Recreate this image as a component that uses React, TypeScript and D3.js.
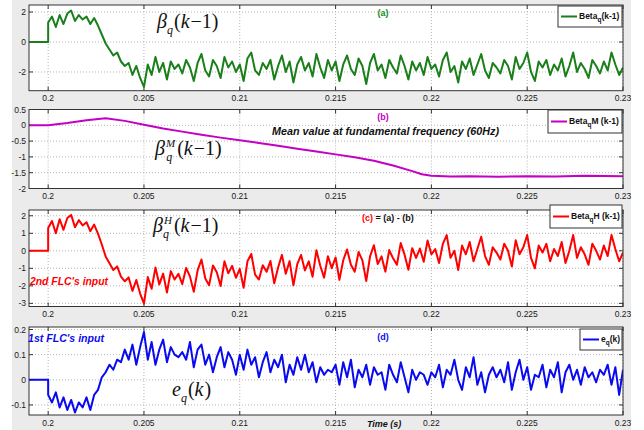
import React from 'react'
import * as d3 from 'd3'

// sample grid of the simulated signals
const T0 = 0.2
const DT = 0.0002
const startT = [0.199, 0.2]
const startV = [0, 0]

const xTicks = [0.2, 0.205, 0.21, 0.215, 0.22, 0.225, 0.23]
const xTickLabels = ['0.2', '0.205', '0.21', '0.215', '0.22', '0.225', '0.23']

// (a) Beta_q(k-1)
const betaQ = [
  1.3, 1.7, 1.0, 1.8, 1.2, 1.9, 2.1, 1.4, 1.8, 1.5,
  1.7, 1.2, 1.6, 1.1, 0.5, -0.1, -0.5, -0.9, -0.7, -1.3,
  -1.6, -1.4, -2.2, -1.6, -2.4, -3.0, -1.5, -2.2, -1.0, -2.0,
  -1.4, -2.5, -1.3, -1.8, -1.5, -2.1, -1.2, -1.7, -2.6, -1.4,
  -0.8, -1.9, -2.3, -1.2, -1.6, -2.4, -1.0, -1.7, -1.3, -2.0,
  -1.5, -2.6, -1.1, -0.7, -1.9, -2.2, -1.4, -1.8, -1.2, -2.5,
  -1.6, -0.9, -2.0, -1.3, -2.7, -1.5, -1.0, -1.9, -1.4, -2.3,
  -0.8, -1.7, -2.4, -1.2, -1.9, -1.3, -2.6, -1.5, -0.9, -1.8,
  -2.2, -1.1, -1.6, -2.8, -1.4, -0.8, -1.9, -1.5, -2.4, -1.2,
  -1.7, -2.1, -0.9, -1.6, -2.5, -1.3, -1.9, -1.4, -2.2, -1.0,
  -1.8, -1.5, -2.3, -1.2, -0.7, -2.0, -1.6, -2.7, -1.3, -1.8,
  -1.1, -2.2, -1.5, -0.8, -1.9, -2.4, -1.4, -1.7, -2.1, -1.2,
  -1.6, -2.5, -1.0, -1.8, -1.4, -0.7, -2.0, -2.6, -1.3, -1.7,
  -1.2, -2.2, -1.5, -1.9, -1.1, -2.3, -1.6, -0.7, -2.0, -1.4,
  -1.8, -2.4, -1.2, -1.6, -2.1, -1.3, -1.9, -0.7, -1.5, -2.2,
  -1.7,
]

// (b) Beta_qM(k-1), mean value at 60 Hz
const betaMTimes = [0.199, 0.2, 0.201, 0.202, 0.203, 0.204, 0.205, 0.206, 0.207, 0.208, 0.209, 0.21,
  0.211, 0.212, 0.213, 0.214, 0.215, 0.216, 0.217, 0.218, 0.219, 0.2195, 0.22, 0.221, 0.222,
  0.2235, 0.225, 0.2265, 0.228, 0.23]
const betaM = [0, 0, 0.07, 0.16, 0.22, 0.14, 0.02, -0.1, -0.2, -0.3, -0.39, -0.47,
  -0.56, -0.65, -0.74, -0.83, -0.92, -1.01, -1.12, -1.27, -1.45, -1.55, -1.6, -1.62, -1.61,
  -1.63, -1.61, -1.62, -1.6, -1.61]

// (c) Beta_qH(k-1) = (a) - (b)
const betaH = [
  1.3, 1.7, 1.0, 1.8, 1.2, 1.87, 2.05, 1.35, 1.75, 1.45,
  1.63, 1.12, 1.5, 0.98, 0.36, -0.32, -0.71, -1.1, -0.89, -1.47,
  -1.74, -1.52, -2.29, -1.67, -2.44, -3.02, -1.5, -2.17, -0.95, -1.92,
  -1.3, -2.38, -1.16, -1.64, -1.32, -1.9, -0.98, -1.46, -2.34, -1.12,
  -0.5, -1.58, -1.96, -0.84, -1.22, -2.01, -0.6, -1.28, -0.86, -1.54,
  -1.03, -2.11, -0.6, -0.18, -1.36, -1.64, -0.82, -1.2, -0.58, -1.86,
  -0.95, -0.23, -1.31, -0.59, -1.97, -0.76, -0.24, -1.12, -0.6, -1.48,
  0.03, -0.85, -1.53, -0.31, -0.99, -0.38, -1.66, -0.54, 0.08, -0.8,
  -1.19, -0.07, -0.55, -1.73, -0.31, 0.32, -0.75, -0.32, -1.19, 0.04,
  -0.43, -0.8, 0.44, -0.22, -1.08, 0.15, -0.41, 0.13, -0.63, 0.59,
  -0.2, 0.1, -0.7, 0.4, 0.9, -0.4, 0.0, -1.1, 0.3, -0.2,
  0.5, -0.6, 0.1, 0.8, -0.3, -0.8, 0.2, -0.1, -0.5, 0.4,
  0.0, -0.9, 0.6, -0.2, 0.2, 0.9, -0.4, -1.0, 0.3, -0.1,
  0.4, -0.6, 0.1, -0.3, 0.5, -0.7, 0.0, 0.9, -0.4, 0.2,
  -0.2, -0.8, 0.4, 0.0, -0.5, 0.3, -0.3, 0.9, 0.1, -0.6,
  -0.1,
]

// (d) e_q(k)
const eQ = [
  -0.06, -0.09, -0.05, -0.11, -0.07, -0.12, -0.08, -0.13, -0.09, -0.11,
  -0.07, -0.12, -0.06, -0.04, 0.01, 0.03, 0.06, 0.04, 0.08, 0.07,
  0.12, 0.08, 0.14, 0.06, 0.13, 0.19, 0.08, 0.15, 0.06, 0.12,
  0.16, 0.07, 0.13, 0.10, 0.09, 0.11, 0.08, 0.15, 0.05, 0.12,
  0.14, 0.06, 0.10, 0.03, 0.09, 0.13, 0.05, 0.11, 0.08, 0.02,
  0.10, 0.04, 0.12, 0.06, 0.09, 0.01, 0.07, 0.11, 0.03, 0.08,
  0.05, 0.10, -0.01, 0.06, 0.02, 0.09, 0.04, 0.10, 0.03, 0.07,
  -0.01, 0.05, 0.02, 0.04, 0.03, 0.06, -0.02, 0.07, 0.01, 0.08,
  -0.03, 0.04, 0.01, 0.06, -0.02, 0.05, 0.02, 0.03, -0.04, 0.06,
  0.02, -0.01, 0.07, 0.01, -0.05, 0.04, 0.00, 0.03, 0.02, -0.02,
  0.03, 0.01, 0.06, -0.03, 0.04, 0.02, 0.08, 0.00, -0.04, 0.05,
  0.01, 0.09, -0.02, 0.03, -0.05, 0.02, 0.05, 0.01, 0.04, -0.01,
  0.07, -0.04, 0.03, 0.08, 0.00, 0.05, -0.04, 0.02, 0.01, 0.06,
  -0.03, 0.04, 0.01, 0.07, -0.05, 0.03, 0.06, 0.00, 0.04, -0.02,
  0.05, 0.01, 0.03, -0.01, 0.04, 0.02, 0.06, -0.02, 0.05, -0.06,
  0.04,
]

const sampled = (vals: number[]) => [
  ...startT.map((t, i) => [t, startV[i]] as [number, number]),
  ...vals.map((v, i) => [T0 + i * DT, v] as [number, number]),
]

const panels = [
  { top: 5, bottom: 90.7, domain: [-3.25, 2.47], ticks: [-2, 0, 2], labels: ['-2', '0', '2'],
    data: sampled(betaQ), color: '#1a7f1a', legend: { x0: 558, y0: 6, w: 64, h: 21, main: 'Beta', sub: 'q', rest: '(k-1)' } },
  { top: 109.5, bottom: 188.5, domain: [-2, 0.5], ticks: [-2, -1.5, -1, -0.5, 0, 0.5],
    labels: ['-2', '-1.5', '-1', '-0.5', '0', '0.5'],
    data: betaMTimes.map((t, i) => [t, betaM[i]] as [number, number]), color: '#c400c4',
    legend: { x0: 548, y0: 110, w: 74, h: 23, main: 'Beta', sub: 'q', rest: 'M (k-1)' } },
  { top: 210, bottom: 306.5, domain: [-3.18, 2.33], ticks: [-3, -2, -1, 0, 1, 2],
    labels: ['-3', '-2', '-1', '0', '1', '2'], data: sampled(betaH), color: '#ff0000',
    legend: { x0: 550, y0: 205, w: 72, h: 23, main: 'Beta', sub: 'q', rest: 'H (k-1)' } },
  { top: 327, bottom: 415, domain: [-0.14, 0.21], ticks: [-0.1, 0, 0.1, 0.2],
    labels: ['-0.1', '0', '0.1', '0.2'], data: sampled(eQ), color: '#0a0af0',
    legend: { x0: 580, y0: 329, w: 42, h: 21, main: 'e', sub: 'q', rest: '(k)' } },
]

const LEFT = 29
const RIGHT = 623
const x = d3.scaleLinear().domain([0.199, 0.23]).range([LEFT, RIGHT])
const sans = 'Liberation Sans, Arial, sans-serif'
const serif = 'Liberation Serif, Times New Roman, serif'

const Panel = ({ p, idx }: { p: any; idx: number }) => {
  const y = d3.scaleLinear().domain(p.domain).range([p.bottom, p.top])
  const line = d3.line<[number, number]>().x(d => x(d[0])).y(d => y(d[1]))
  const lg = p.legend
  return (
    <g>
      <defs>
        <clipPath id={`clip${idx}`}>
          <rect x={LEFT} y={p.top} width={RIGHT - LEFT} height={p.bottom - p.top} />
        </clipPath>
      </defs>
      <rect x={LEFT} y={p.top} width={RIGHT - LEFT} height={p.bottom - p.top} fill="#fff" />
      {xTicks.map(t => (
        <line key={t} x1={x(t)} x2={x(t)} y1={p.top} y2={p.bottom} stroke="#b5b5b5" strokeDasharray="1,2" />
      ))}
      {p.ticks.map((v: number) => (
        <line key={v} x1={LEFT} x2={RIGHT} y1={y(v)} y2={y(v)} stroke="#b5b5b5" strokeDasharray="1,2" />
      ))}
      {xTicks.map(t => (
        <g key={'t' + t}>
          <line x1={x(t)} x2={x(t)} y1={p.bottom} y2={p.bottom - 4} stroke="#333" />
          <line x1={x(t)} x2={x(t)} y1={p.top} y2={p.top + 4} stroke="#333" />
        </g>
      ))}
      {p.ticks.map((v: number) => (
        <g key={'y' + v}>
          <line x1={LEFT} x2={LEFT + 4} y1={y(v)} y2={y(v)} stroke="#333" />
          <line x1={RIGHT} x2={RIGHT - 4} y1={y(v)} y2={y(v)} stroke="#333" />
        </g>
      ))}
      <path d={line(p.data) || ''} fill="none" stroke={p.color} strokeWidth={2}
        strokeLinejoin="round" clipPath={`url(#clip${idx})`} />
      <rect x={LEFT} y={p.top} width={RIGHT - LEFT} height={p.bottom - p.top} fill="none" stroke="#333" strokeWidth={1} />
      {xTickLabels.map((s, i) => (
        <text key={s} x={x(xTicks[i])} y={p.bottom + 10.5} textAnchor="middle" fontFamily={sans}
          fontSize={8.5} fill="#1a1a1a">{s}</text>
      ))}
      {p.labels.map((s: string, i: number) => (
        <text key={s} x={LEFT - 3} y={y(p.ticks[i]) + 3} textAnchor="end" fontFamily={sans}
          fontSize={8.5} fill="#1a1a1a">{s}</text>
      ))}
      <rect x={lg.x0} y={lg.y0} width={lg.w} height={lg.h} fill="#fff" stroke="#333" />
      <line x1={lg.x0 + 3} x2={lg.x0 + 19} y1={lg.y0 + lg.h / 2} y2={lg.y0 + lg.h / 2} stroke={p.color} strokeWidth={2} />
      <text x={lg.x0 + 21} y={lg.y0 + lg.h / 2 + 2} fontFamily={sans} fontSize={8.5} fontWeight="bold" fill="#111">
        {lg.main}
        <tspan dy={3} fontSize={6.5}>{lg.sub}</tspan>
        <tspan dy={-3}>{lg.rest}</tspan>
      </text>
    </g>
  )
}

const MathLabel = ({ x0, y0, sup, sub, body, sym }: any) => (
  <text x={x0} y={y0} fontFamily={serif} fontSize={20} fill="#111">
    <tspan fontStyle="italic">{sym}</tspan>
    {sup ? <tspan dx={1} dy={-8} fontSize={11} fontStyle="italic">{sup}</tspan> : null}
    <tspan dx={sup ? -9 : 0} dy={sup ? 14 : 6} fontSize={12} fontStyle="italic">{sub}</tspan>
    <tspan dx={sup ? 5 : 1} dy={-6}>(</tspan>
    <tspan fontStyle="italic">k</tspan>
    <tspan dx={1}>{body}</tspan>
  </text>
)

export default function App() {
  return (
    <svg width={644} height={430} style={{ position: 'absolute', left: 0, top: 0, display: 'block' }}>
      <rect x={0} y={0} width={644} height={430} fill="#fff" />
      <rect x={12} y={0} width={619} height={430} fill="#ebebeb" />
      {panels.map((p, i) => <Panel key={i} p={p} idx={i} />)}

      <MathLabel x0={157} y0={28} sym="β" sub="q" body="−1)" />
      <MathLabel x0={155} y0={155} sym="β" sup="M" sub="q" body="−1)" />
      <MathLabel x0={153} y0={232} sym="β" sup="H" sub="q" body="−1)" />
      <MathLabel x0={172} y0={396} sym="e" sub="q" body=")" />

      <text x={383} y={16} textAnchor="middle" fontFamily={sans} fontSize={9} fontWeight="bold" fill="#1a8a1a">(a)</text>
      <text x={383} y={120} textAnchor="middle" fontFamily={sans} fontSize={9} fontWeight="bold" fill="#c400c4">(b)</text>
      <text x={272} y={134.5} fontFamily={sans} fontSize={10} fontWeight="bold" fontStyle="italic"
        fill="#111" textLength={227} lengthAdjust="spacingAndGlyphs">Mean value at fundamental frequency (60Hz)</text>
      <text x={362} y={221} fontFamily={sans} fontSize={9} fontWeight="bold" fill="#ff0000">
        (c)<tspan fill="#111"> = (a) - (b)</tspan>
      </text>
      <text x={30} y={284.5} fontFamily={sans} fontSize={10} fontWeight="bold" fontStyle="italic"
        fill="#ff0000" textLength={78} lengthAdjust="spacingAndGlyphs">2nd FLC's input</text>
      <text x={28} y={341.5} fontFamily={sans} fontSize={10} fontWeight="bold" fontStyle="italic"
        fill="#0a0af0" textLength={76} lengthAdjust="spacingAndGlyphs">1st FLC's input</text>
      <text x={383} y={340} textAnchor="middle" fontFamily={sans} fontSize={9} fontWeight="bold" fill="#0a0af0">(d)</text>
      <text x={367} y={427} fontFamily={sans} fontSize={9} fontWeight="bold" fontStyle="italic" fill="#111">Time (s)</text>
    </svg>
  )
}
